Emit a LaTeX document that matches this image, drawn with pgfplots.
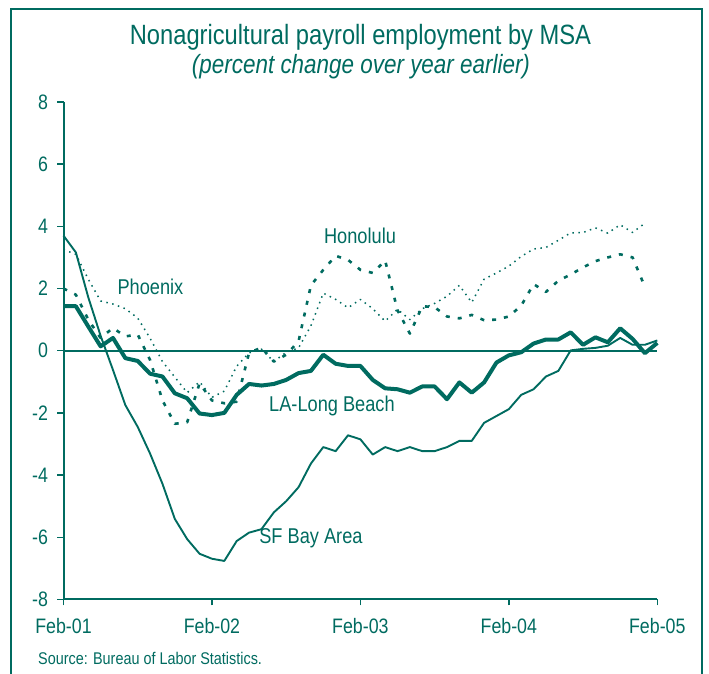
\documentclass[border=0pt]{standalone}
\usepackage{pgfplots}
\pgfplotsset{compat=1.18}
\usepackage{fontspec}
\setmainfont{Liberation Sans}[FakeStretch=0.85]
\definecolor{tl}{RGB}{0,107,96}

\pgfplotstableread{
m v
0 1.43
1 1.43
2 0.78
3 0.14
4 0.41
5 -0.24
6 -0.33
7 -0.74
8 -0.83
9 -1.37
10 -1.53
11 -2.02
12 -2.07
13 -2.0
14 -1.42
15 -1.07
16 -1.12
17 -1.07
18 -0.94
19 -0.72
20 -0.65
21 -0.13
22 -0.42
23 -0.49
24 -0.49
25 -0.94
26 -1.21
27 -1.24
28 -1.35
29 -1.15
30 -1.15
31 -1.56
32 -1.02
33 -1.35
34 -1.02
35 -0.38
36 -0.15
37 -0.05
38 0.23
39 0.36
40 0.36
41 0.59
42 0.19
43 0.43
44 0.27
45 0.72
46 0.38
47 -0.08
48 0.25
}\la

\pgfplotstableread{
m v
0 3.7
1 3.16
2 1.72
3 0.48
4 -0.62
5 -1.75
6 -2.45
7 -3.31
8 -4.28
9 -5.41
10 -6.06
11 -6.53
12 -6.69
13 -6.76
14 -6.12
15 -5.85
16 -5.74
17 -5.2
18 -4.84
19 -4.39
20 -3.63
21 -3.1
22 -3.23
23 -2.72
24 -2.85
25 -3.34
26 -3.10
27 -3.23
28 -3.10
29 -3.23
30 -3.23
31 -3.10
32 -2.90
33 -2.90
34 -2.32
35 -2.10
36 -1.88
37 -1.42
38 -1.24
39 -0.83
40 -0.65
41 0.01
42 0.06
43 0.09
44 0.16
45 0.41
46 0.19
47 0.19
48 0.33
}\sf

\pgfplotstableread{
m v
0 2.0
1 1.8
2 1.0
3 0.41
4 0.73
5 0.46
6 0.52
7 -0.3
8 -1.6
9 -2.35
10 -2.3
11 -1.05
12 -1.6
13 -1.69
14 -1.64
15 -0.07
16 0.1
17 -0.35
18 -0.13
19 0.3
20 2.1
21 2.6
22 3.05
23 2.92
24 2.6
25 2.5
26 2.9
27 1.3
28 0.55
29 1.43
30 1.4
31 1.1
32 1.04
33 1.15
34 0.98
35 1.0
36 1.1
37 1.45
38 2.14
39 1.89
40 2.25
41 2.45
42 2.68
43 2.88
44 3.0
45 3.1
46 3.0
47 2.05
}\hon

\pgfplotstableread{
m v
0 3.25
1 3.1
2 2.3
3 1.6
4 1.5
5 1.35
6 1.05
7 0.4
8 -0.35
9 -0.85
10 -1.35
11 -1.0
12 -1.5
13 -1.3
14 -0.5
15 -0.07
16 0.05
17 -0.35
18 -0.05
19 0.09
20 0.8
21 1.85
22 1.65
23 1.38
24 1.65
25 1.35
26 0.95
27 1.33
28 1.0
29 1.35
30 1.52
31 1.75
32 2.1
33 1.55
34 2.3
35 2.5
36 2.72
37 3.03
38 3.27
39 3.32
40 3.55
41 3.79
42 3.8
43 3.95
44 3.78
45 4.05
46 3.8
47 4.1
}\phx

\begin{document}
\begin{tikzpicture}[x=1bp,y=1bp]
\begin{axis}[
  at={(63.5bp,74.5bp)}, anchor=south west,
  scale only axis, width=593.8bp, height=497.6bp,
  xmin=0, xmax=48, ymin=-8, ymax=8,
  axis x line*=bottom, axis y line*=left,
  axis line style={tl, line width=2bp, -},
  xtick={0,12,24,36,48}, xticklabels={Feb-01,Feb-02,Feb-03,Feb-04,Feb-05},
  ytick={-8,-6,...,8}, yticklabels={-8,-6,-4,-2,0,2,4,6,8},
  tick align=outside, major tick length=6bp,
  tick style={tl, line width=1.5bp},
  ticklabel style={font=\fontsize{21}{21}\selectfont, text=tl},
  xticklabel style={yshift=-9bp},
  yticklabel style={xshift=-6bp},
  extra y ticks={0}, extra y tick labels={},
  extra y tick style={grid=major, major grid style={tl, line width=2.2bp}},
  clip=false,
]
\addplot[tl, line width=1.5bp, dash pattern=on 1.5bp off 4.5bp, line join=round] table[x=m,y=v] {\phx};
\addplot[tl, line width=2.6bp, dash pattern=on 4bp off 8bp, line join=round] table[x=m,y=v] {\hon};
\addplot[tl, line width=1.9bp, line join=round] table[x=m,y=v] {\sf};
\addplot[tl, line width=4bp, line join=round] table[x=m,y=v] {\la};
\node[text=tl, font=\fontsize{21.5}{21.5}\selectfont] at (axis cs:7.03,2.05) {Phoenix};
\node[text=tl, font=\fontsize{21.5}{21.5}\selectfont] at (axis cs:23.97,3.69) {Honolulu};
\node[text=tl, font=\fontsize{21.5}{21.5}\selectfont] at (axis cs:21.7,-1.78) {LA-Long Beach};
\node[text=tl, font=\fontsize{21.5}{21.5}\selectfont] at (axis cs:20.0,-6.02) {SF Bay Area};
\end{axis}
\draw[tl, line width=2.2bp] (11bp,-10bp) -- (11bp,665bp) -- (702bp,665bp) -- (702bp,-10bp);
\node[text=tl, anchor=base, font=\fontsize{28}{28}\selectfont] at (360.5bp,629bp) {Nonagricultural payroll employment by MSA};
\node[text=tl, anchor=base, font=\fontsize{26.5}{26.5}\selectfont\itshape] at (361bp,600bp) {(percent change over year earlier)};
\node[text=tl, anchor=west, inner sep=0pt, font=\fontsize{17}{17}\selectfont] at (38bp,16bp) {Source: Bureau of Labor Statistics.};
\pgfresetboundingbox
\useasboundingbox (0,0) rectangle (709bp,674bp);
\end{tikzpicture}
\end{document}
